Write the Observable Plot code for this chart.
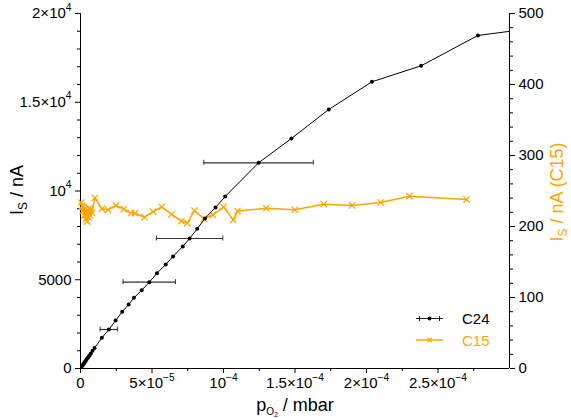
<!DOCTYPE html>
<html>
<head>
<meta charset="utf-8">
<script src="https://cdn.jsdelivr.net/npm/d3@7"></script>
<script src="https://cdn.jsdelivr.net/npm/@observablehq/plot@0.6"></script>
<style>
  body { margin: 0; background: white; }
  #chart { width: 571px; height: 418px; }
</style>
</head>
<body>
<div id="chart"></div>
<script>
// ---- Data: C24 (left axis, nA) ----
const c24X = [0.42e-6, 0.91e-6, 1.40e-6, 1.89e-6, 2.45e-6, 3.02e-6, 3.58e-6, 4.21e-6, 4.84e-6, 5.54e-6,
  6.31e-6, 7.22e-6, 8.42e-6, 9.82e-6, 14.94e-6, 19.85e-6, 24.54e-6, 29.17e-6, 33.66e-6, 37.38e-6,
  42.78e-6, 48.11e-6, 53.5e-6, 59.6e-6, 64.7e-6, 71.5e-6, 76.3e-6, 81.6e-6, 87.0e-6, 94.4e-6,
  101.2e-6, 124.5e-6, 147.5e-6, 173.6e-6, 203.8e-6, 238.2e-6, 277.9e-6, 315e-6];
const c24Y = [39, 124, 180, 237, 299, 361, 428, 501, 575, 654,
  738, 845, 997, 1155, 1730, 2197, 2704, 3194, 3606, 3983,
  4411, 4862, 5369, 5859, 6310, 6873, 7324, 7871, 8451, 9071,
  9690, 11589, 12958, 14592, 16153, 17054, 18761, 19155];
// horizontal error bars (half widths, mbar)
const errX = [19.85e-6, 48.11e-6, 76.3e-6, 124.5e-6];
const errY = [2197, 4862, 7324, 11589];
const errHalf = [6.1e-6, 18.3e-6, 23.2e-6, 38.3e-6];

// ---- Data: C15 (right axis, nA) ----
const c15X = [0.56e-6, 1.12e-6, 1.61e-6, 2.03e-6, 2.52e-6, 3.02e-6, 3.58e-6, 4.07e-6, 4.63e-6, 5.12e-6,
  5.68e-6, 6.17e-6, 6.73e-6, 7.36e-6, 8.13e-6, 10.03e-6, 14.94e-6, 19.35e-6, 24.75e-6, 30.36e-6,
  35.27e-6, 38.08e-6, 44.74e-6, 50.70e-6, 56.80e-6, 63.67e-6, 70.55e-6, 74.75e-6, 79.66e-6, 86.46e-6,
  92.57e-6, 100.1e-6, 106.8e-6, 109.8e-6, 129.9e-6, 149.9e-6, 170.1e-6, 190.0e-6, 209.9e-6, 230.0e-6, 270.0e-6];
const c15Y = [233.8, 228.9, 221.8, 227.5, 215.5, 224.6, 209.9, 221.1, 207.0, 222.5,
  212.7, 225.4, 215.5, 224.0, 219.7, 240.4, 224.9, 223.5, 229.6, 224.6,
  218.7, 218.7, 213.1, 220.8, 227.7, 217.2, 207.7, 204.9, 222.3, 210.8,
  216.5, 227.5, 209.4, 221.8, 225.8, 223.5, 231.4, 229.6, 233.8, 242.7, 238.0];

// ---- Ticks ----
const xTicks = [0, 5e-5, 1e-4, 1.5e-4, 2e-4, 2.5e-4];
const xTickLabels = ["0", "5×10^−5", "10^−4", "1.5×10^−4", "2×10^−4", "2.5×10^−4"];
const xMinor = [2.5e-5, 7.5e-5, 1.25e-4, 1.75e-4, 2.25e-4, 2.75e-4];
const yTicks = [0, 5000, 10000, 15000, 20000];
const yTickLabels = ["0", "5000", "10^4", "1.5×10^4", "2×10^4"];
const yMinor = d3.range(0, 20001, 1000).filter(v => v % 5000 !== 0);
const rTicks = [0, 100, 200, 300, 400, 500];
const rMinor = d3.range(0, 501, 20).filter(v => v % 100 !== 0);
const ratio = 40; // right axis (0..500) onto left axis (0..20000)

const c24 = c24X.map((x, i) => ({x, y: c24Y[i]}));
const c15 = c15X.map((x, i) => ({x, y: c15Y[i]}));
const errs = errX.map((x, i) => ({x, y: errY[i], e: errHalf[i]}));

const orange = "#ffa500";
const capH = 140;

const svg = Plot.plot({
  width: 571, height: 418,
  marginLeft: 80, marginRight: 62, marginTop: 13, marginBottom: 50,
  style: {fontFamily: "'Liberation Sans', Arial, Helvetica, sans-serif", fontSize: "15px", color: "black", background: "white"},
  x: {domain: [0, 3e-4], label: null},
  y: {domain: [0, 20000], label: null},
  marks: [
    Plot.axisY(yTicks, {anchor: "left", tickSize: 5, tickPadding: 4, tickFormat: d => yTickLabels[yTicks.indexOf(d)], label: null}),
    Plot.axisY(yMinor, {anchor: "left", tickSize: 3, tickFormat: () => "", label: null}),
    Plot.axisY(rTicks.map(v => v * ratio), {anchor: "right", tickSize: 5, tickPadding: 4, tickFormat: d => String(d / ratio), label: null}),
    Plot.axisY(rMinor.map(v => v * ratio), {anchor: "right", tickSize: 3, tickFormat: () => "", label: null}),
    Plot.axisX(xTicks, {anchor: "bottom", tickSize: 5, tickPadding: 4, tickFormat: d => xTickLabels[xTicks.indexOf(d)], label: null}),
    Plot.axisX(xMinor, {anchor: "bottom", tickSize: 3, tickFormat: () => "", label: null}),
    Plot.ruleX([0, 3e-4], {stroke: "black"}),
    Plot.ruleY([0], {stroke: "black"}),
    Plot.line(c15, {x: "x", y: d => d.y * ratio, stroke: orange, strokeWidth: 1.5}),
    Plot.dot(c15, {x: "x", y: d => d.y * ratio, symbol: "times", r: 3, stroke: orange, strokeWidth: 1.2}),
    Plot.ruleY(errs, {y: "y", x1: d => d.x - d.e, x2: d => d.x + d.e, stroke: "#333", strokeWidth: 1.2}),
    Plot.ruleX(errs, {x: d => d.x - d.e, y1: d => d.y - capH, y2: d => d.y + capH, stroke: "#333"}),
    Plot.ruleX(errs, {x: d => d.x + d.e, y1: d => d.y - capH, y2: d => d.y + capH, stroke: "#333"}),
    Plot.line(c24, {x: "x", y: "y", stroke: "black", strokeWidth: 1, clip: true}),
    Plot.dot(c24, {x: "x", y: "y", r: 2, fill: "black", clip: true})
  ]
});

// superscripts in tick labels
const NS = "http://www.w3.org/2000/svg";
svg.querySelectorAll("text").forEach(t => {
  const s = t.textContent;
  if (!s.includes("^")) return;
  const [base, exp] = s.split("^");
  while (t.firstChild) t.removeChild(t.firstChild);
  const a = document.createElementNS(NS, "tspan"); a.textContent = base; t.appendChild(a);
  const b = document.createElementNS(NS, "tspan"); b.textContent = exp;
  b.setAttribute("font-size", "0.68em"); b.setAttribute("dy", "-0.75em"); t.appendChild(b);
});

const s = d3.select(svg);
const font = "'Liberation Sans', Arial, Helvetica, sans-serif";

// x label
const xl = s.append("text").attr("x", 295).attr("y", 411).attr("text-anchor", "middle")
  .attr("font-family", font).attr("font-size", 18).attr("fill", "black");
xl.append("tspan").text("p");
xl.append("tspan").attr("font-size", 10).attr("dy", 4).text("O");
xl.append("tspan").attr("font-size", 7).attr("dy", 1.5).text("2");
xl.append("tspan").attr("dy", -5.5).text(" / mbar");

// left y label
const yl = s.append("text").attr("transform", "translate(23,190) rotate(-90)").attr("text-anchor", "middle")
  .attr("font-family", font).attr("font-size", 18).attr("fill", "black");
yl.append("tspan").text("I");
yl.append("tspan").attr("font-size", 12).attr("dy", 4).text("S");
yl.append("tspan").attr("dy", -4).text(" / nA");

// right y label
const rl = s.append("text").attr("transform", "translate(563,192) rotate(-90)").attr("text-anchor", "middle")
  .attr("font-family", font).attr("font-size", 18).attr("fill", orange);
rl.append("tspan").text("I");
rl.append("tspan").attr("font-size", 12).attr("dy", 4).text("S");
rl.append("tspan").attr("dy", -4).text(" / nA (C15)");

// legend
const lg = s.append("g");
lg.append("line").attr("x1", 416).attr("x2", 443).attr("y1", 318.5).attr("y2", 318.5).attr("stroke", "#222");
lg.append("line").attr("x1", 419.5).attr("x2", 419.5).attr("y1", 316).attr("y2", 321).attr("stroke", "#222");
lg.append("line").attr("x1", 439.5).attr("x2", 439.5).attr("y1", 316).attr("y2", 321).attr("stroke", "#222");
lg.append("circle").attr("cx", 429.5).attr("cy", 318.5).attr("r", 2).attr("fill", "black");
lg.append("text").attr("x", 462).attr("y", 324).attr("text-anchor", "start").attr("font-family", font).attr("font-size", 15).attr("fill", "black").text("C24");
lg.append("line").attr("x1", 416).attr("x2", 443).attr("y1", 340).attr("y2", 340).attr("stroke", orange).attr("stroke-width", 1.5);
lg.append("path").attr("d", "M427.5,338L431.5,342M427.5,342L431.5,338").attr("stroke", orange).attr("stroke-width", 1.2);
lg.append("text").attr("x", 462).attr("y", 346).attr("text-anchor", "start").attr("font-family", font).attr("font-size", 15).attr("fill", orange).text("C15");

document.getElementById("chart").appendChild(svg);
</script>
</body>
</html>
